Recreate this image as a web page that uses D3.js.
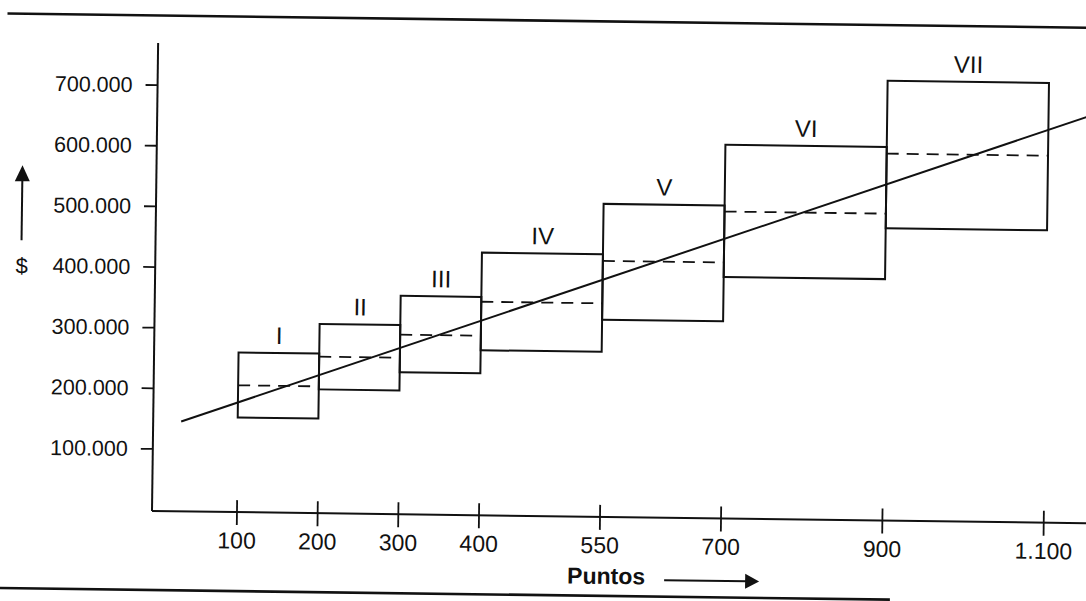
<!DOCTYPE html>
<html>
<head>
<meta charset="utf-8">
<script src="https://cdn.jsdelivr.net/npm/d3@7"></script>
<style>
  html, body { margin: 0; padding: 0; background: #fff; }
  svg { display: block; }
</style>
</head>
<body>
<script>
// ---- data ----
const grades     = ["I", "II", "III", "IV", "V", "VI", "VII"];
const pointsFrom = [100, 200, 300, 400, 550, 700, 900];
const pointsTo   = [200, 300, 400, 550, 700, 900, 1100];
const salaryMin  = [153000, 201000, 231000, 269000, 322000, 395000, 479000];
const salaryMid  = [206000, 255000, 293000, 349000, 419000, 503000, 602000];
const salaryMax  = [260000, 309000, 357000, 430000, 513000, 613000, 722000];
const trendPoints = [30, 1150];
const trendSalary = [145000, 668000];
const xTicks = [100, 200, 300, 400, 550, 700, 900, 1100];
const yTicks = [100000, 200000, 300000, 400000, 500000, 600000, 700000];
const xTitle = "Puntos";
const yTitle = "$";

// ---- layout ----
const W = 1086, H = 601;
const ink = "#111";
const font = "'Liberation Sans', Arial, Helvetica, sans-serif";
const originX = 152, axisY = 511;

const locale = d3.formatLocale({decimal: ",", thousands: ".", grouping: [3], currency: ["$", ""]});
const fmt = locale.format(",d");

const x = d3.scaleLinear().domain([0, 1100]).range([155.8, 1043.3]);
const y = d3.scaleLinear().domain([0, 700000]).range([509.1, 84.6]);

const svg = d3.select("body").append("svg")
  .attr("width", W).attr("height", H)
  .attr("viewBox", `0 0 ${W} ${H}`);

// whole scanned figure is slightly rotated
const g = svg.append("g").attr("transform", `rotate(0.75, ${originX}, ${axisY})`);

// rules (page frame lines)
g.append("line").attr("x1", 1).attr("x2", 1110).attr("y1", 15.5).attr("y2", 15.5)
  .attr("stroke", ink).attr("stroke-width", 2.6);
g.append("line").attr("x1", -2).attr("x2", 891).attr("y1", 590).attr("y2", 590)
  .attr("stroke", ink).attr("stroke-width", 2.6);

// y axis
g.append("line").attr("x1", originX).attr("x2", originX).attr("y1", 43).attr("y2", axisY)
  .attr("stroke", ink).attr("stroke-width", 2);
const yAxis = g.append("g").attr("transform", `translate(${originX},0)`)
  .call(d3.axisLeft(y).tickValues(yTicks).tickSize(12).tickPadding(13).tickFormat(fmt));
yAxis.select(".domain").remove();
yAxis.selectAll(".tick line").attr("stroke", ink).attr("stroke-width", 1.8);
yAxis.selectAll(".tick text").attr("fill", ink).attr("font-family", font)
  .attr("font-size", 21.5).attr("dy", "0.34em");

// x axis
g.append("line").attr("x1", originX).attr("x2", 1110).attr("y1", axisY).attr("y2", axisY)
  .attr("stroke", ink).attr("stroke-width", 2);
const xAxis = g.append("g").attr("transform", `translate(0,${axisY})`)
  .call(d3.axisBottom(x).tickValues(xTicks).tickSize(13).tickPadding(7).tickFormat(fmt));
xAxis.select(".domain").remove();
xAxis.selectAll(".tick line").attr("y1", -12).attr("stroke", ink).attr("stroke-width", 1.8);
xAxis.selectAll(".tick text").attr("fill", ink).attr("font-family", font)
  .attr("font-size", 23);

// grade boxes
const rows = grades.map((name, i) => ({
  name, x0: pointsFrom[i], x1: pointsTo[i],
  lo: salaryMin[i], mid: salaryMid[i], hi: salaryMax[i]
}));

g.selectAll("rect.grade").data(rows).join("rect")
  .attr("class", "grade")
  .attr("x", d => x(d.x0)).attr("width", d => x(d.x1) - x(d.x0))
  .attr("y", d => y(d.hi)).attr("height", d => y(d.lo) - y(d.hi))
  .attr("fill", "none").attr("stroke", ink).attr("stroke-width", 2);

g.selectAll("line.mid").data(rows).join("line")
  .attr("class", "mid")
  .attr("x1", d => x(d.x0)).attr("x2", d => x(d.x1))
  .attr("y1", d => y(d.mid)).attr("y2", d => y(d.mid))
  .attr("stroke", ink).attr("stroke-width", 1.8).attr("stroke-dasharray", "12,8");

g.selectAll("text.grade").data(rows).join("text")
  .attr("class", "grade")
  .attr("x", d => (x(d.x0) + x(d.x1)) / 2)
  .attr("y", d => y(d.hi) - 9)
  .attr("text-anchor", "middle")
  .attr("font-family", font).attr("font-size", 24).attr("fill", ink)
  .text(d => d.name);

// trend line
g.append("path")
  .datum(trendPoints.map((p, i) => [p, trendSalary[i]]))
  .attr("d", d3.line().x(d => x(d[0])).y(d => y(d[1])))
  .attr("fill", "none").attr("stroke", ink).attr("stroke-width", 2);

// y title with arrow
g.append("text").attr("x", 18.5).attr("y", 275).attr("text-anchor", "middle")
  .attr("font-family", font).attr("font-size", 22).attr("fill", ink).text(yTitle);
g.append("line").attr("x1", 18).attr("x2", 18).attr("y1", 242).attr("y2", 180)
  .attr("stroke", ink).attr("stroke-width", 2);
g.append("path").attr("d", "M18,167 L25.5,183 L10.5,183 Z").attr("fill", ink);

// x title with arrow
g.append("text").attr("x", 568).attr("y", 578)
  .attr("font-family", font).attr("font-size", 23).attr("font-weight", "bold")
  .attr("fill", ink).text(xTitle);
g.append("line").attr("x1", 665).attr("x2", 748).attr("y1", 573.5).attr("y2", 573.5)
  .attr("stroke", ink).attr("stroke-width", 2);
g.append("path").attr("d", "M746,566 L760,573.5 L746,581 Z").attr("fill", ink);
</script>
</body>
</html>
